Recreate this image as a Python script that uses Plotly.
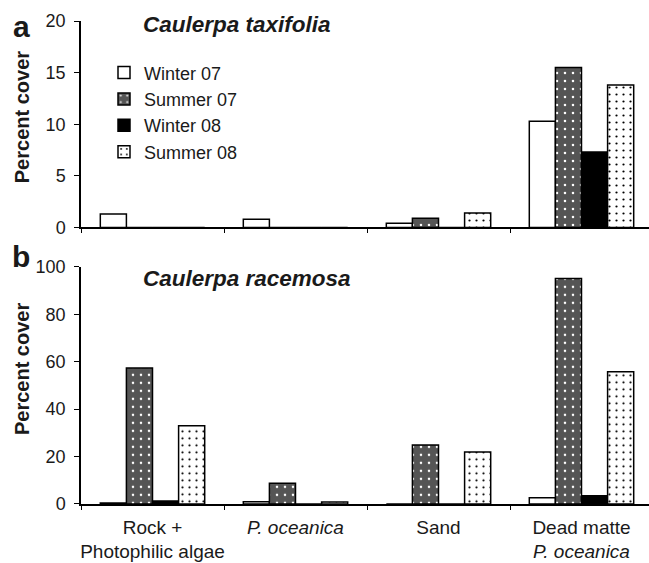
import plotly.graph_objects as go

# Habitat categories (x axis) and sampling seasons (bar series)
habitats = ["Rock +<br>Photophilic algae", "<i>P. oceanica</i>", "Sand",
            "Dead matte<br><i>P. oceanica</i>"]
seasons = ["Winter 07", "Summer 07", "Winter 08", "Summer 08"]

# Percent cover of Caulerpa taxifolia per habitat
taxifolia_winter07 = [1.3, 0.8, 0.4, 10.3]
taxifolia_summer07 = [0.0, 0.0, 0.9, 15.5]
taxifolia_winter08 = [0.0, 0.0, 0.0, 7.3]
taxifolia_summer08 = [0.0, 0.0, 1.4, 13.8]

# Percent cover of Caulerpa racemosa per habitat
racemosa_winter07 = [0.4, 1.0, 0.0, 2.6]
racemosa_summer07 = [57.4, 8.7, 24.9, 95.1]
racemosa_winter08 = [1.3, 0.0, 0.0, 3.5]
racemosa_summer08 = [33.0, 0.8, 21.9, 55.8]

taxifolia = [taxifolia_winter07, taxifolia_summer07, taxifolia_winter08, taxifolia_summer08]
racemosa = [racemosa_winter07, racemosa_summer07, racemosa_winter08, racemosa_summer08]

FONT = "Liberation Sans, Arial, sans-serif"

# Fill style for each season
styles = [
    dict(color="white"),
    dict(color="#555555", pattern=dict(shape=".", fgcolor="white", bgcolor="#555555",
                                       size=8, solidity=0.08, fillmode="replace")),
    dict(color="black"),
    dict(color="white", pattern=dict(shape=".", fgcolor="black", bgcolor="white",
                                     size=7, solidity=0.08, fillmode="replace")),
]

fig = go.Figure()

for i, season in enumerate(seasons):
    fig.add_trace(go.Bar(
        x=habitats, y=taxifolia[i], name=season, xaxis="x", yaxis="y",
        marker=dict(**styles[i], line=dict(color="black", width=1.5)),
        showlegend=True, legendgroup=season,
    ))
for i, season in enumerate(seasons):
    fig.add_trace(go.Bar(
        x=habitats, y=racemosa[i], name=season, xaxis="x2", yaxis="y2",
        marker=dict(**styles[i], line=dict(color="black", width=1.5)),
        showlegend=False, legendgroup=season,
    ))

W, H = 649, 563
ML, MR, MT, MB = 81, 0, 20.7, 59
PH = H - MT - MB
PW = W - ML - MR


def px(x):
    return (x - ML) / PW


def py(y):
    return (H - MB - y) / PH


xr = [-0.5, -0.5 + PW / 143.0]

axis_common = dict(
    showgrid=False, zeroline=False, showline=True, linecolor="black", linewidth=1.5,
    ticks="outside", tickcolor="black", tickwidth=1.2, automargin=False,
    tickfont=dict(family=FONT, size=18, color="#1a1a1a"),
)

fig.update_layout(
    width=W, height=H,
    margin=dict(l=ML, r=MR, t=MT, b=MB, autoexpand=False),
    paper_bgcolor="white", plot_bgcolor="white",
    barmode="group", bargap=0.27, bargroupgap=0,
    font=dict(family=FONT, color="#1a1a1a"),
    xaxis=dict(**axis_common, domain=[0, 1], anchor="y", range=xr,
               tickson="boundaries", ticklen=4, showticklabels=False),
    yaxis=dict(**axis_common, domain=[py(227.3), 1], anchor="x", range=[0, 20],
               dtick=5, ticklen=5, ticklabelstandoff=5),
    xaxis2=dict(**axis_common, domain=[0, 1], anchor="y2", range=xr,
                tickson="boundaries", ticklen=4, tickangle=0, ticklabelstandoff=5),
    yaxis2=dict(**axis_common, domain=[0, py(266.7)], anchor="x2", range=[0, 100],
                dtick=20, ticklen=5, ticklabelstandoff=5),
    legend=dict(x=px(104), y=py(54), xanchor="left", yanchor="top",
                font=dict(family=FONT, size=18, color="#1a1a1a"),
                bgcolor="rgba(0,0,0,0)", tracegroupgap=0, itemwidth=30),
)
fig.update_xaxes(tickfont=dict(size=19))

annotations = [
    dict(text="<b>a</b>", x=px(21), y=py(26), font=dict(size=30)),
    dict(text="<b>b</b>", x=px(21), y=py(256), font=dict(size=30)),
    dict(text="<b><i>Caulerpa taxifolia</i></b>", x=px(141), y=py(24),
         xanchor="left", font=dict(size=22.5)),
    dict(text="<b><i>Caulerpa racemosa</i></b>", x=px(141), y=py(278),
         xanchor="left", font=dict(size=22.5)),
    dict(text="<b>Percent cover</b>", x=px(22), y=py(117), textangle=-90,
         font=dict(size=20)),
    dict(text="<b>Percent cover</b>", x=px(22), y=py(369), textangle=-90,
         font=dict(size=20)),
]
for a in annotations:
    a.setdefault("xanchor", "center")
    a.update(xref="paper", yref="paper", yanchor="middle", showarrow=False)
    a["font"] = dict(family=FONT, color="#1a1a1a", **a["font"])
fig.update_layout(annotations=annotations)

fig.write_html("out.html")
